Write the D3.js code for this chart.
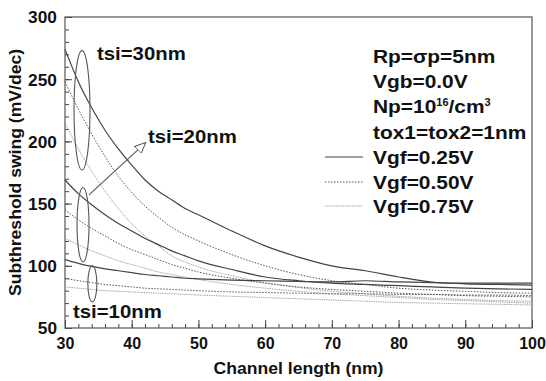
<!DOCTYPE html>
<html>
<head>
<meta charset="utf-8">
<script src="https://cdn.jsdelivr.net/npm/d3@7"></script>
<style>
  body { margin: 0; background: #fff; }
  text { font-family: "Liberation Sans", Arial, sans-serif; font-weight: bold; fill: #111; }
</style>
</head>
<body>
<div class="chart-container"></div>
<script>
// channel length (nm)
const channelLength = [30, 32, 34, 36, 38, 40, 42, 44, 46, 48, 50, 55, 60, 65, 70, 75, 80, 85, 90, 95, 100];

// subthreshold swing (mV/dec)
const ssT30V025 = [274, 248, 227, 209, 194, 181, 169, 160, 153, 146, 141, 128, 116, 107, 100, 96, 91, 87, 85.5, 85, 84.5];
const ssT30V050 = [248, 226, 206, 188, 172, 159, 148, 139, 131, 125, 120, 109, 100, 93, 88, 85, 82, 80.5, 79.5, 78.5, 78];
const ssT30V075 = [215, 194, 176, 160, 146, 134, 124, 116, 108, 103, 99, 92, 86.5, 82.5, 79.5, 77.5, 75.5, 74, 73, 72, 71.5];
const ssT20V025 = [169, 158, 149, 141, 134, 128, 122, 117, 112, 108, 104, 97, 91, 88, 86, 85, 84, 83, 82, 81.5, 81];
const ssT20V050 = [145, 137, 130, 124, 118, 113, 109, 105, 101, 98, 95, 90, 86, 83, 81, 79.5, 78, 77, 76, 75.5, 75];
const ssT20V075 = [122, 117, 112, 108, 104, 101, 98, 95, 93, 91, 89, 85, 82, 79.5, 77.5, 76, 74.5, 73, 72, 71, 70];
const ssT10V025 = [105, 102, 99.5, 97.5, 96, 94.5, 93, 92, 91, 90, 89.5, 88.5, 88, 87.5, 87, 88, 87, 86.5, 86, 86, 86];
const ssT10V050 = [90, 88, 86.5, 85, 84, 83, 82, 81.5, 81, 80.5, 80, 79, 78.5, 78, 77.5, 77.5, 77, 77, 76.5, 76.5, 76];
const ssT10V075 = [83, 82, 81, 80, 79.5, 79, 78.5, 78, 77.5, 77, 76.5, 75.5, 74.5, 73.5, 72.5, 71.5, 70.5, 70, 69.5, 69, 68.5];

const xTicks = [30, 40, 50, 60, 70, 80, 90, 100];
const yTicks = [50, 100, 150, 200, 250, 300];

const legendInfo = ['Rp=σp=5nm', 'Vgb=0.0V', 'Np=10', 'tox1=tox2=1nm'];
const legendVgf = ['Vgf=0.25V', 'Vgf=0.50V', 'Vgf=0.75V'];

// ellipse annotations: [cx (nm), cy (mV/dec), half height (mV/dec)]
const ellipse30 = [32.55, 225, 48];
const ellipse20 = [32.7, 133, 30];
const ellipse10 = [34.1, 85.5, 14.5];
const arrow20 = [[33.6, 157], [42.1, 199]];

const series = [
  { vals: ssT30V025, style: 'v025' },
  { vals: ssT30V050, style: 'v050' },
  { vals: ssT30V075, style: 'v075' },
  { vals: ssT20V025, style: 'v025' },
  { vals: ssT20V050, style: 'v050' },
  { vals: ssT20V075, style: 'v075' },
  { vals: ssT10V025, style: 'v025' },
  { vals: ssT10V050, style: 'v050' },
  { vals: ssT10V075, style: 'v075' }
];

const styles = {
  v025: { stroke: '#444', width: 1.2, dash: null },
  v050: { stroke: '#555', width: 1, dash: '1.5,1.5' },
  v075: { stroke: '#9a9a9a', width: 1, dash: '1,0.8' }
};

const width = 546;
const height = 381;
const marginTop = 17;
const marginRight = 14;
const marginBottom = 53;
const marginLeft = 65;
const stretch = 1.1; // text in the reference is a bit wider than tall

const element = document.querySelector('.chart-container');

const x = d3.scaleLinear()
  .domain([30, 100])
  .range([marginLeft, width - marginRight]);

const y = d3.scaleLinear()
  .domain([50, 300])
  .range([height - marginBottom, marginTop]);

const svg = d3.select(element)
  .append('svg')
  .attr('width', width)
  .attr('height', height)
  .attr('viewBox', [0, 0, width, height]);

// stretched text helper
function label(parent, tx, ty, str, size, extra = '') {
  return parent.append('text')
    .attr('transform', `translate(${tx},${ty}) ${extra} scale(${stretch},1)`)
    .style('font-size', size + 'px')
    .text(str);
}

// ticks (inward)
const xMinor = svg.append('g')
  .attr('transform', `translate(0,${height - marginBottom})`)
  .call(d3.axisBottom(x).tickValues(d3.range(30, 101, 2)).tickSize(-4).tickFormat(''));
const xMajor = svg.append('g')
  .attr('transform', `translate(0,${height - marginBottom})`)
  .call(d3.axisBottom(x).tickValues(xTicks).tickSize(-8).tickPadding(10).tickFormat(d3.format('d')));
const yMinor = svg.append('g')
  .attr('transform', `translate(${marginLeft},0)`)
  .call(d3.axisLeft(y).tickValues(d3.range(50, 301, 10)).tickSize(-4).tickFormat(''));
const yMajor = svg.append('g')
  .attr('transform', `translate(${marginLeft},0)`)
  .call(d3.axisLeft(y).tickValues(yTicks).tickSize(-7).tickPadding(8).tickFormat(d3.format('d')));

[xMinor, xMajor, yMinor, yMajor].forEach(g => {
  g.select('.domain').remove();
  g.selectAll('line').attr('stroke', '#444');
  g.selectAll('text')
    .style('font-size', '16.5px')
    .style('font-family', '"Liberation Sans", Arial, sans-serif')
    .attr('fill', '#111');
});
xMajor.selectAll('.tick text').style('font-size', '16px');
yMajor.selectAll('text').attr('dy', '0.36em')
  .attr('transform', 'translate(-8,0) scale(1.05,1) translate(8,0)');

// frame
svg.append('rect')
  .attr('x', marginLeft)
  .attr('y', marginTop)
  .attr('width', width - marginLeft - marginRight)
  .attr('height', height - marginTop - marginBottom)
  .attr('fill', 'none')
  .attr('stroke', '#555')
  .attr('stroke-width', 1.2);

// curves
const line = d3.line()
  .x((d, i) => x(channelLength[i]))
  .y(d => y(d))
  .curve(d3.curveMonotoneX);

series.forEach(s => {
  const st = styles[s.style];
  svg.append('path')
    .datum(s.vals)
    .attr('fill', 'none')
    .attr('stroke', st.stroke)
    .attr('stroke-width', st.width)
    .attr('stroke-dasharray', st.dash)
    .attr('d', line);
});

// ellipses
[[ellipse30, 8], [ellipse20, 6], [ellipse10, 4.5]].forEach(([e, rx]) => {
  svg.append('ellipse')
    .attr('cx', x(e[0]))
    .attr('cy', y(e[1]))
    .attr('rx', rx)
    .attr('ry', y(e[1] - e[2]) - y(e[1]))
    .attr('fill', 'none')
    .attr('stroke', '#555')
    .attr('stroke-width', 1.1);
});

// arrow
svg.append('defs').append('marker')
  .attr('id', 'arrowhead')
  .attr('viewBox', '0 0 12 10')
  .attr('refX', 11)
  .attr('refY', 5)
  .attr('markerWidth', 12)
  .attr('markerHeight', 10)
  .attr('markerUnits', 'userSpaceOnUse')
  .attr('orient', 'auto')
  .append('path')
  .attr('d', 'M0,0 L11,5 L0,10 Z')
  .attr('fill', '#fff')
  .attr('stroke', '#555')
  .attr('stroke-width', 1);

svg.append('line')
  .attr('x1', x(arrow20[0][0]))
  .attr('y1', y(arrow20[0][1]))
  .attr('x2', x(arrow20[1][0]))
  .attr('y2', y(arrow20[1][1]))
  .attr('stroke', '#555')
  .attr('stroke-width', 1.1)
  .attr('marker-end', 'url(#arrowhead)');

// annotation labels
label(svg, 97, 60, 'tsi=30nm', 18.5);
label(svg, 148, 143, 'tsi=20nm', 18.5);
label(svg, 73, 318, 'tsi=10nm', 18.5);

// legend
const infoY = [63, 88, 113, 139];
legendInfo.forEach((t, i) => {
  const txt = label(svg, 373, infoY[i], t, 19);
  if (i === 2) {
    txt.append('tspan').attr('dy', -7).style('font-size', '10px').text('16');
    txt.append('tspan').attr('dy', 7).text('/cm');
    txt.append('tspan').attr('dy', -7).style('font-size', '10px').text('3');
  }
});
const vgfY = [164, 189, 213];
const vgfStyle = ['v025', 'v050', 'v075'];
legendVgf.forEach((t, i) => {
  const st = styles[vgfStyle[i]];
  svg.append('line')
    .attr('x1', 325).attr('x2', 363)
    .attr('y1', vgfY[i] - 7).attr('y2', vgfY[i] - 7)
    .attr('stroke', st.stroke)
    .attr('stroke-width', st.width)
    .attr('stroke-dasharray', st.dash);
  label(svg, 373, vgfY[i], t, 19);
});

// axis titles
label(svg, (width - marginLeft - marginRight) / 2 + marginLeft, 374, 'Channel length (nm)', 16)
  .style('text-anchor', 'middle');

label(svg, 21, (height - marginTop - marginBottom) / 2 + marginTop, 'Subthreshold swing (mV/dec)', 16, 'rotate(-90)')
  .style('text-anchor', 'middle');
</script>
</body>
</html>
